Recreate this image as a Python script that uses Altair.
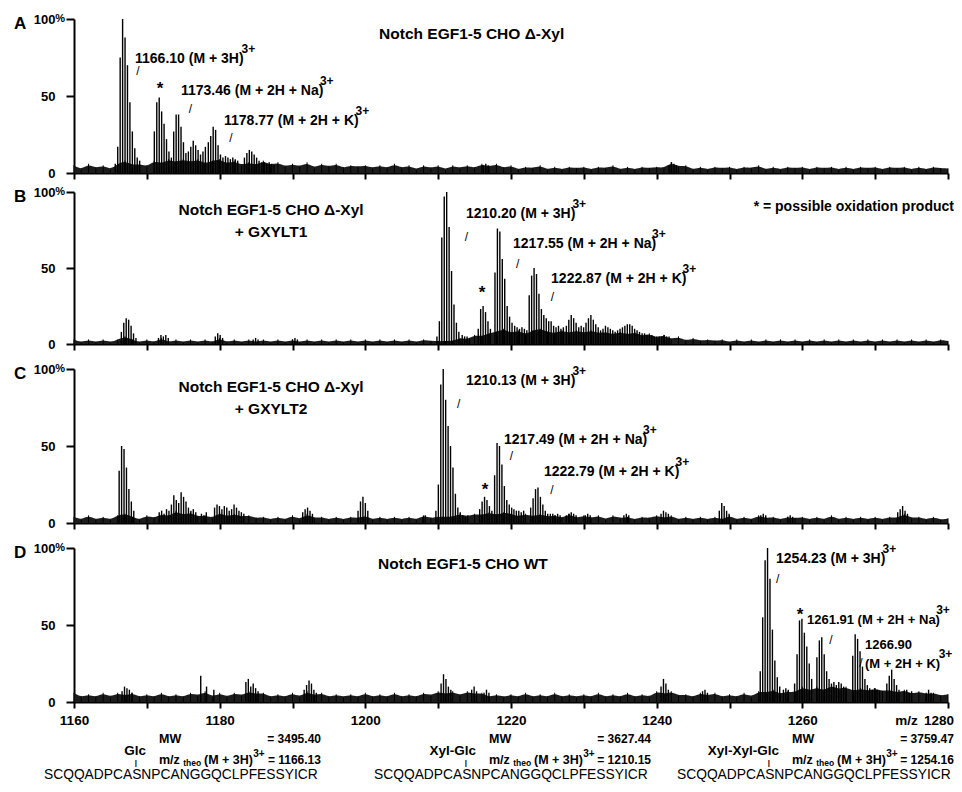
import altair as alt
import pandas as pd

# ---------------------------------------------------------------- data
MZ = list(range(1160, 1281))          # noise floor sampled once per m/z unit
ISO = 1.0034 / 3                      # isotope spacing of a 3+ ion

noise_A = [5, 2, 6, 3, 5, 2, 6, 8, 5, 6,
           4, 8, 6, 9, 7, 9, 7, 9, 6, 8,
           9, 6, 8, 5, 7, 5, 8, 5, 7, 4,
           6, 4, 7, 3, 6, 4, 6, 3, 5, 4,
           5, 3, 5, 3, 6, 3, 5, 2, 5, 3,
           5, 2, 5, 3, 5, 3, 6, 4, 6, 3,
           5, 2, 4, 3, 5, 2, 4, 2, 4, 3,
           4, 2, 4, 3, 5, 2, 4, 2, 4, 3,
           4, 3, 7, 4, 5, 2, 4, 2, 4, 3,
           4, 2, 4, 3, 5, 2, 4, 2, 4, 3,
           4, 2, 4, 3, 4, 2, 4, 2, 4, 3,
           4, 2, 4, 3, 4, 2, 4, 2, 4, 3, 3]
noise_B = [3, 1, 3, 1, 3, 1, 3, 5, 3, 1,
           3, 1, 4, 1, 3, 1, 3, 1, 3, 1,
           4, 1, 3, 1, 3, 1, 3, 1, 3, 1,
           3, 1, 3, 1, 3, 1, 3, 1, 3, 1,
           3, 1, 3, 1, 3, 1, 3, 1, 3, 2,
           2, 2, 2, 4, 3, 6, 5, 7, 8, 10,
           7, 9, 6, 9, 10, 8, 7, 9, 7, 9,
           7, 9, 7, 8, 6, 8, 6, 8, 5, 7,
           4, 6, 3, 5, 2, 4, 2, 3, 2, 3,
           1, 3, 1, 3, 1, 3, 1, 3, 1, 3,
           1, 3, 1, 3, 1, 3, 1, 3, 1, 3,
           1, 3, 1, 3, 1, 3, 1, 3, 1, 3, 2]
noise_C = [4, 2, 5, 2, 4, 2, 5, 6, 4, 2,
           5, 3, 6, 4, 8, 5, 7, 4, 5, 3,
           7, 4, 6, 4, 5, 3, 4, 2, 4, 2,
           5, 2, 6, 3, 4, 2, 4, 2, 4, 3,
           5, 2, 4, 2, 4, 2, 4, 2, 5, 3,
           4, 4, 4, 6, 4, 6, 5, 7, 5, 7,
           6, 4, 6, 4, 6, 4, 5, 3, 6, 3,
           5, 3, 5, 2, 5, 3, 4, 2, 4, 3,
           5, 3, 5, 2, 4, 2, 4, 2, 4, 2,
           5, 2, 4, 2, 5, 3, 4, 2, 4, 3,
           4, 2, 4, 2, 5, 2, 4, 2, 4, 2,
           4, 2, 4, 3, 6, 3, 4, 2, 4, 2, 3]
noise_D = [6, 3, 5, 3, 6, 3, 6, 4, 6, 3,
           5, 3, 6, 3, 5, 3, 6, 4, 7, 3,
           6, 3, 6, 4, 7, 5, 6, 3, 5, 3,
           6, 3, 7, 4, 6, 3, 5, 3, 5, 3,
           6, 3, 5, 3, 6, 3, 5, 3, 6, 4,
           7, 5, 7, 4, 7, 5, 6, 3, 5, 3,
           5, 3, 6, 3, 5, 3, 6, 3, 5, 3,
           5, 3, 6, 3, 5, 3, 6, 3, 5, 3,
           7, 5, 7, 4, 5, 3, 6, 4, 6, 3,
           5, 3, 6, 3, 7, 6, 8, 5, 7, 6,
           10, 7, 10, 7, 11, 8, 10, 7, 9, 7,
           9, 7, 8, 6, 8, 5, 7, 5, 6, 4, 5]

# isotope clusters: (first m/z, relative intensities in %)
clusters_A = [
    (1165.67, [6, 17, 75, 100, 88, 70, 46, 27, 16, 10, 8]),
    (1171.03, [27, 46, 49, 40, 32, 22, 14, 10]),
    (1173.69, [27, 38, 38, 30, 20, 13]),
    (1175.70, [14, 17, 21, 18, 15, 12, 14, 17]),
    (1178.44, [20, 24, 30, 28, 18, 12, 10]),
    (1180.80, [11, 10, 9, 10, 9, 8]),
    (1183.40, [10, 13, 15, 14, 12, 10, 8]),
    (1185.80, [7, 7, 6, 7, 6, 5]),
    (1216.20, [5, 6, 5]),
    (1241.70, [5, 7, 6, 5]),
]
clusters_B = [
    (1166.50, [8, 14, 17, 16, 12, 7, 4]),
    (1171.60, [4, 6, 5, 6, 4]),
    (1179.40, [5, 7, 6, 4]),
    (1184.60, [3, 4, 3]),
    (1190.00, [3, 4, 3]),
    (1209.83, [5, 15, 70, 97, 100, 77, 48, 26, 14, 8]),
    (1213.30, [6, 5, 5, 4]),
    (1215.50, [10, 23, 25, 21, 15, 10]),
    (1217.80, [47, 76, 74, 56, 43, 25, 18, 14]),
    (1220.50, [12, 11, 10, 11, 10, 9]),
    (1222.50, [32, 45, 50, 46, 33, 23, 19, 17, 15, 15]),
    (1225.85, [12, 11, 12, 10, 11]),
    (1227.60, [12, 16, 19, 17, 14]),
    (1229.30, [11, 12, 11]),
    (1230.30, [14, 17, 19, 16, 13, 11]),
    (1232.30, [9, 10, 12, 11, 10, 9]),
    (1234.30, [8, 9, 10]),
    (1235.30, [11, 12, 13, 13, 12, 10, 9, 8]),
    (1238.00, [7, 7, 6, 6, 6, 5, 5, 5]),
    (1240.70, [5, 6, 5, 5]),
]
clusters_C = [
    (1166.20, [34, 50, 48, 36, 22, 14, 8]),
    (1171.70, [7, 8, 6, 9, 8, 12, 18, 15, 13, 20, 17, 14, 10, 8, 9, 7]),
    (1177.50, [6, 5, 7]),
    (1179.30, [10, 12, 11, 9, 11, 10, 8, 9, 12, 10, 8, 7, 6]),
    (1191.40, [7, 9, 10, 8, 6]),
    (1199.00, [8, 14, 17, 13, 8]),
    (1207.90, [4, 5]),
    (1209.69, [8, 25, 90, 100, 80, 63, 50, 36, 19, 10, 7]),
    (1213.40, [5, 4, 5]),
    (1215.70, [9, 14, 17, 15, 11, 8]),
    (1217.75, [31, 52, 50, 38, 24, 15, 12, 10]),
    (1220.40, [9, 8, 8, 7, 8]),
    (1222.70, [10, 16, 22, 23, 17, 12, 8, 6]),
    (1225.40, [6, 6, 5, 6, 5]),
    (1227.60, [5, 6, 7, 6, 5]),
    (1230.20, [5, 6, 5]),
    (1235.50, [5, 6, 5]),
    (1240.60, [6, 8, 7, 6]),
    (1248.60, [8, 13, 11, 8, 6]),
    (1254.30, [5, 6, 5]),
    (1258.00, [4, 5, 4]),
    (1273.10, [7, 9, 11, 8, 6]),
]
clusters_D = [
    (1166.60, [7, 10, 9, 8, 6]),
    (1177.40, [17]),
    (1178.20, [10]),
    (1179.20, [8]),
    (1183.60, [13, 15, 10, 12, 9, 7]),
    (1191.60, [8, 11, 14, 12, 8, 6]),
    (1210.40, [12, 18, 15, 10, 8]),
    (1214.60, [8, 10, 7]),
    (1216.30, [6, 8, 6]),
    (1240.60, [10, 15, 12, 8]),
    (1246.30, [7, 8, 6]),
    (1254.22, [20, 55, 92, 100, 80, 47, 27, 16, 10]),
    (1257.40, [8, 9, 8]),
    (1258.94, [12, 31, 53, 54, 45, 36, 25, 15]),
    (1262.00, [29, 40, 42, 31, 20, 15]),
    (1264.00, [12, 13, 11, 13, 12, 10, 9]),
    (1266.92, [30, 44, 41, 33, 23, 15, 11]),
    (1269.25, [9, 8, 9, 8, 7]),
    (1271.60, [12, 17, 21, 15, 11, 8]),
    (1274.00, [7, 8, 6, 7]),
    (1277.00, [6, 8, 6]),
]

titles = {
    "A": ["Notch EGF1-5 CHO Δ-Xyl"],
    "B": ["Notch EGF1-5 CHO Δ-Xyl", "+ GXYLT1"],
    "C": ["Notch EGF1-5 CHO Δ-Xyl", "+ GXYLT2"],
    "D": ["Notch EGF1-5 CHO WT"],
}
peak_labels = {
    "A": ["1166.10 (M + 3H)", "1173.46 (M + 2H + Na)", "1178.77 (M + 2H + K)"],
    "B": ["1210.20 (M + 3H)", "1217.55 (M + 2H + Na)", "1222.87 (M + 2H + K)"],
    "C": ["1210.13 (M + 3H)", "1217.49 (M + 2H + Na)", "1222.79 (M + 2H + K)"],
    "D": ["1254.23 (M + 3H)", "1261.91 (M + 2H + Na)", "(M + 2H + K)"],
}
glycans = ["Glc", "Xyl-Glc", "Xyl-Xyl-Glc"]
mw_values = ["= 3495.40", "= 3627.44", "= 3759.47"]
mz_theo = ["= 1166.13", "= 1210.15", "= 1254.16"]
sequence = "SCQQADPCASNPCANGGQCLPFESSYICR"
y_ticks = [0, 50, 100]
x_ticks = list(range(1160, 1281, 10))

# ---------------------------------------------------------------- styles
BOLD = "Liberation Sans, Arial, sans-serif"
SANS = "Liberation Sans, Arial, sans-serif"
W = 874
PXU = W / 120.0                       # pixels per m/z unit
LABEL_FS = 14
SUP_FS = 12
CHAR_W = {".": .278, " ": .278, "(": .333, ")": .333, "M": .833, "+": .584,
          "H": .722, "N": .722, "a": .556, "K": .722}


def text_px(s, fs):
    return sum(CHAR_W.get(c, .556) for c in s) * fs * 0.96


def enc_x(show_labels):
    axis = alt.Axis(values=x_ticks, title=None, grid=False, tickSize=6, tickWidth=2,
                    domainWidth=2, domainColor="black", tickColor="black",
                    labels=show_labels, labelFont=BOLD, labelFontSize=13.5,
                    labelFontWeight="bold", labelColor="black", labelPadding=5,
                    labelExpr="datum.value % 20 == 0 && datum.value < 1280 ? format(datum.value, 'd') : ''",
                    labelFlush=False)
    return alt.X("mz:Q", scale=alt.Scale(domain=[1160, 1280], nice=False, zero=False), axis=axis)


def enc_y():
    axis = alt.Axis(values=y_ticks, title=None, grid=False, tickSize=8, tickWidth=2,
                    domainWidth=2, domainColor="black", tickColor="black",
                    labelFont=BOLD, labelFontSize=13, labelFontWeight="bold",
                    labelColor="black", labelPadding=11)
    return alt.Y("i:Q", scale=alt.Scale(domain=[0, 100], nice=False), axis=axis)


def text_layer(rows, show_labels, **kw):
    df = pd.DataFrame(rows, columns=["label", "mz", "i"])
    return alt.Chart(df).mark_text(color="black", **kw).encode(
        x=enc_x(show_labels), y=enc_y(), text="label:N")


def panel(letter, noise, clusters, spots, height, show_labels, extra=None):
    ndf = pd.DataFrame({"mz": MZ, "i": noise})
    rows = []
    for start, heights in clusters:
        for k, h in enumerate(heights):
            rows.append({"mz": start + k * ISO, "i": h})
    pdf = pd.DataFrame(rows)
    X, Y = enc_x(show_labels), enc_y()
    floor = alt.Chart(ndf).mark_area(color="#1c1c1c", interpolate="basis").encode(x=X, y=Y)
    floor_hairs = alt.Chart(ndf).mark_rule(color="black", strokeWidth=1).encode(
        x=X, y=Y, y2=alt.datum(0))
    peaks = alt.Chart(pdf).mark_rule(color="black", strokeWidth=1.4).encode(
        x=X, y=Y, y2=alt.datum(0))

    title_rows = [(t, spots["title"][0], spots["title"][1] - 14 * k)
                  for k, t in enumerate(titles[letter])]
    slash_rows = [("/", p[0], p[1]) for p in spots["slashes"]]
    star_rows = [("*", p[0], p[1]) for p in spots["stars"]]

    layers = [floor, floor_hairs, peaks,
              text_layer([(letter, 1152.6, 97)], show_labels, font=SANS, fontSize=17,
                         fontWeight="bold", align="center", baseline="middle"),
              text_layer([("%", 1158.1, 100)], show_labels, font=BOLD, fontSize=11,
                         fontWeight="bold", align="center", baseline="middle"),
              text_layer(title_rows, show_labels, font=BOLD, fontSize=15.5,
                         fontWeight="bold", align="center", baseline="middle"),
              text_layer(slash_rows, show_labels, font=SANS, fontSize=12,
                         align="center", baseline="middle", dy=3),
              text_layer(star_rows, show_labels, font=BOLD, fontSize=17,
                         fontWeight="bold", align="center", baseline="middle", dy=4)]
    # peak labels with their 3+ superscripts right after the text
    for t, (x0, y0), fs in zip(peak_labels[letter], spots["labels"], spots["sizes"]):
        layers.append(text_layer([(t, x0, y0)], show_labels, font=BOLD, fontSize=fs,
                                 fontWeight="bold", align="left", baseline="middle"))
        xs = x0 + (text_px(t, fs) + 1.5) / PXU
        layers.append(text_layer([("3+", xs, y0)], show_labels, font=BOLD, fontSize=SUP_FS,
                                 fontWeight="bold", align="left", baseline="middle", dy=-10))
    if extra:
        layers += extra(show_labels)
    return alt.layer(*layers).properties(width=W, height=height)


spots_A = {"title": (1214.6, 90), "sizes": [LABEL_FS] * 3,
           "labels": [(1168.38, 74), (1174.69, 53), (1180.60, 34)],
           "slashes": [(1168.79, 68.2), (1176.0, 43.2), (1181.56, 24.7)],
           "stars": [(1171.81, 57.1)]}
spots_B = {"title": (1187.05, 88), "sizes": [LABEL_FS] * 3,
           "labels": [(1213.82, 85.5), (1220.28, 66), (1225.50, 43)],
           "slashes": [(1213.89, 72.4), (1220.9, 54.3), (1225.7, 32.9)],
           "stars": [(1216.02, 36.2)]}
spots_C = {"title": (1187.05, 88), "sizes": [LABEL_FS] * 3,
           "labels": [(1213.82, 92), (1219.04, 54), (1224.53, 33)],
           "slashes": [(1212.8, 79.2), (1220.07, 45.5), (1225.63, 23.7)],
           "stars": [(1216.43, 24.0)]}
spots_D = {"title": (1213.4, 89.6), "sizes": [LABEL_FS, 13, 13],
           "labels": [(1256.39, 93), (1260.64, 53), (1268.61, 25)],
           "slashes": [(1256.6, 81.5), (1263.93, 42.2), (1268.06, 27.3)],
           "stars": [(1259.68, 59.1)]}


def extra_B(s):
    return [text_layer([("* = possible oxidation product", 1280.82, 90)], s, font=BOLD,
                       fontSize=14, fontWeight="bold", align="right", baseline="middle")]


GROUP = [0.0, 45.31, 86.91]           # m/z offsets of the three sequence blocks
RIGHT_EDGE = 1280.82


def extra_D(s):
    g = GROUP
    right = [min(1193.91 + d, RIGHT_EDGE) for d in g]
    return [
        text_layer([("1266.90", 1268.61, 37)], s, font=BOLD, fontSize=13,
                   fontWeight="bold", align="left", baseline="middle"),
        text_layer([("m/z", 1274.3, -12.3)], s, font=BOLD, fontSize=13.5,
                   fontWeight="bold", align="center", baseline="middle"),
        text_layer([("1280", RIGHT_EDGE, -12.3)], s, font=BOLD, fontSize=13.5,
                   fontWeight="bold", align="right", baseline="middle"),
        text_layer([(t, 1169.89 + d, -31.8) for t, d in zip(glycans, g)], s, font=BOLD,
                   fontSize=13.5, fontWeight="bold", align="right", baseline="middle"),
        text_layer([("|", 1168.51 + d, -39.8) for d in g], s, font=SANS, fontSize=8,
                   fontWeight="bold", align="center", baseline="middle"),
        text_layer([("MW", 1171.67 + d, -24.0) for d in g] +
                   [("m/z", 1171.67 + d, -37.7) for d in g] +
                   [("(M + 3H)", 1177.85 + d, -37.7) for d in g], s, font=BOLD,
                   fontSize=12.5, fontWeight="bold", align="left", baseline="middle"),
        text_layer([("theo", 1175.00 + d, -37.7) for d in g], s, font=BOLD, fontSize=8.5,
                   fontWeight="bold", align="left", baseline="middle", dy=3),
        text_layer([("3+", 1184.6 + d, -37.7) for d in g], s, font=BOLD, fontSize=10,
                   fontWeight="bold", align="left", baseline="middle", dy=-6),
        text_layer([(t, r, -24.0) for t, r in zip(mw_values, right)] +
                   [(t, r, -37.7) for t, r in zip(mz_theo, right)], s, font=BOLD,
                   fontSize=12, fontWeight="bold", align="right", baseline="middle"),
        text_layer([(sequence, 1155.88 + d, -47.6) for d in g], s, font=SANS,
                   fontSize=13.8, align="left", baseline="middle"),
    ]


pA = panel("A", noise_A, clusters_A, spots_A, 154, False)
pB = panel("B", noise_B, clusters_B, spots_B, 152, False, extra_B)
pC = panel("C", noise_C, clusters_C, spots_C, 154, False)
pD = panel("D", noise_D, clusters_D, spots_D, 154, True, extra_D)

chart = alt.vconcat(
    pA,
    alt.vconcat(pB, pC, pD, spacing=25, bounds="flush"),
    spacing=19, bounds="flush",
).configure_view(stroke=None).properties(
    background="white", padding={"left": 5, "top": 5, "right": 0, "bottom": 0})

chart.save("out.html", embed_options={"renderer": "svg", "actions": False})
